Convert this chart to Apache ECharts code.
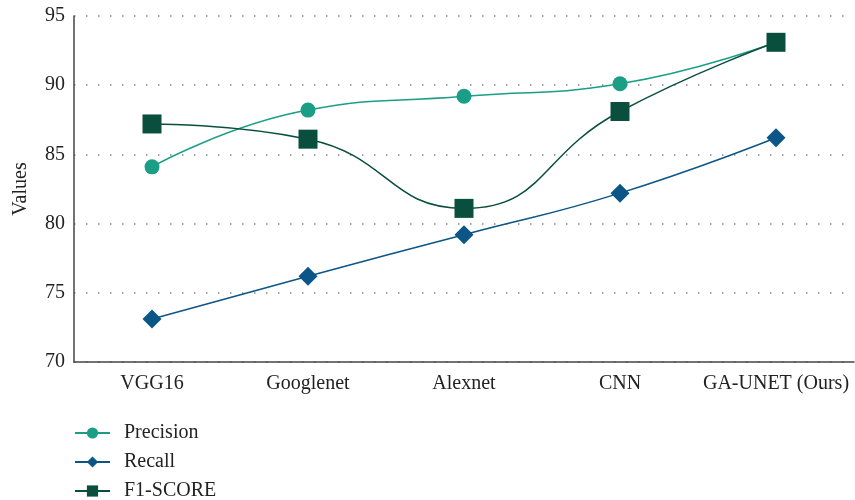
<!DOCTYPE html>
<html><head><meta charset="utf-8">
<script src="https://cdn.jsdelivr.net/npm/echarts@6/dist/echarts.min.js"></script>
<style>html,body{margin:0;padding:0;background:#fff}#c{width:855px;height:500px}</style>
</head><body><div id="c"></div>
<script>
const categories = ["VGG16", "Googlenet", "Alexnet", "CNN", "GA-UNET (Ours)"];
const precision = [84.1, 88.2, 89.2, 90.1, 93.1];
const recall = [73.1, 76.2, 79.2, 82.2, 86.2];
const f1score = [87.2, 86.1, 81.1, 88.1, 93.1];
const yTicks = {min: 70, max: 95, interval: 5};

const font = "Liberation Serif";
const chart = echarts.init(document.getElementById('c'));
chart.setOption({
  animation: false,
  textStyle: {fontFamily: font},
  grid: {left: 74, right: 1, top: 16, bottom: 138, containLabel: false, outerBoundsMode: 'none'},
  legend: {
    orient: 'vertical', left: 69, top: 418, height: 90, itemGap: 9, itemWidth: 35, itemHeight: 14,
    textStyle: {fontFamily: font, fontSize: 20, color: '#222', padding: [0, 0, 0, 9]},
    data: ['Precision', 'Recall', 'F1-SCORE']
  },
  xAxis: {
    type: 'category', data: categories, boundaryGap: true,
    axisLine: {lineStyle: {color: '#444', width: 1.5}},
    axisTick: {show: false},
    axisLabel: {fontFamily: font, fontSize: 20, color: '#222', margin: 12, interval: 0}
  },
  yAxis: {
    type: 'value', min: yTicks.min, max: yTicks.max, interval: yTicks.interval,
    name: 'Values', nameLocation: 'middle', nameGap: 43,
    nameTextStyle: {fontFamily: font, fontSize: 20, color: '#222'},
    axisLine: {show: true, lineStyle: {color: '#444', width: 1.5}},
    axisTick: {show: false},
    axisLabel: {fontFamily: font, fontSize: 20, color: '#222', margin: 9},
    splitLine: {show: true, lineStyle: {color: '#888', type: [1.5, 10.5], width: 1.5}}
  },
  series: [
    {name: 'Precision', type: 'line', data: precision, smooth: true,
     symbol: 'circle', symbolSize: 15, color: '#1a9e86',
     lineStyle: {width: 1.5, color: '#1a9e86'}, itemStyle: {color: '#1a9e86'}, z: 2},
    {name: 'Recall', type: 'line', data: recall, smooth: true,
     symbol: 'diamond', symbolSize: 19, color: '#0b5587',
     lineStyle: {width: 1.5, color: '#0b5587'}, itemStyle: {color: '#0b5587'}, z: 3},
    {name: 'F1-SCORE', type: 'line', data: f1score, smooth: true,
     symbol: 'rect', symbolSize: 19, color: '#0a4f3e',
     lineStyle: {width: 1.5, color: '#0a4f3e'}, itemStyle: {color: '#0a4f3e'}, z: 4}
  ]
});
</script></body></html>
